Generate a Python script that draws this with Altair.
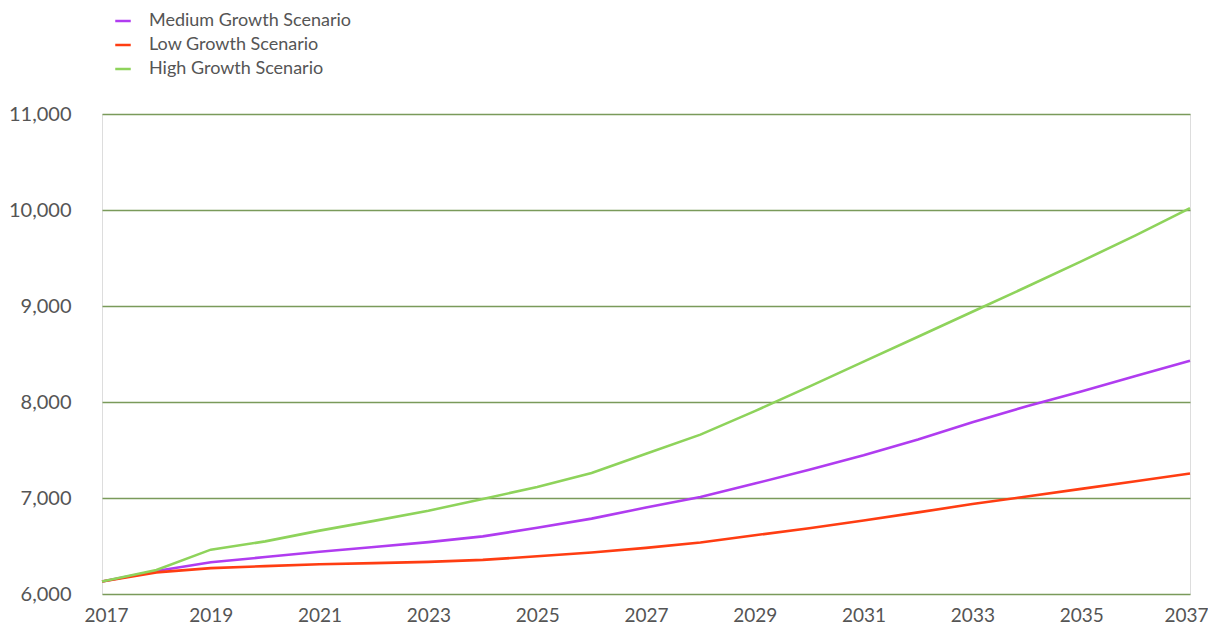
import altair as alt
import pandas as pd

years = list(range(2017, 2038))
medium = [6130, 6240, 6330, 6385, 6440, 6490, 6540, 6600, 6690, 6785, 6900, 7010, 7150,
          7295, 7445, 7610, 7790, 7955, 8110, 8270, 8430]
low = [6130, 6225, 6270, 6290, 6310, 6322, 6335, 6355, 6393, 6432, 6480, 6537, 6612,
       6685, 6765, 6850, 6937, 7015, 7095, 7175, 7255]
high = [6130, 6250, 6462, 6548, 6660, 6762, 6868, 6990, 7115, 7260, 7460, 7660, 7905,
        8160, 8420, 8680, 8940, 9200, 9465, 9735, 10020]

series_names = ["Medium Growth Scenario", "Low Growth Scenario", "High Growth Scenario"]
series_colors = ["#B03CF0", "#FF3D12", "#8ED35B"]
x_ticks = list(range(2017, 2038, 2))
y_ticks = [6000, 7000, 8000, 9000, 10000, 11000]

rows = []
for name, vals in zip(series_names, [medium, low, high]):
    for yr, v in zip(years, vals):
        rows.append({"year": yr, "value": v, "series": name})
df = pd.DataFrame(rows)

FONT = "Lato"
TXT = "#555555"

chart = alt.Chart(df).mark_line(strokeWidth=2.6).encode(
    x=alt.X("year:Q",
            scale=alt.Scale(domain=[2017, 2037], nice=False, zero=False),
            axis=alt.Axis(values=x_ticks, format="d", title=None, grid=False,
                          domain=False, ticks=False, labelPadding=12,
                          labelFontSize=19, labelColor=TXT, labelFont=FONT,
                          labelFlush=True, labelFlushOffset=18,
                          labelOverlap=False)),
    y=alt.Y("value:Q",
            scale=alt.Scale(domain=[6000, 11000], nice=False, zero=False),
            axis=alt.Axis(values=y_ticks, format=",d", title=None, grid=True,
                          gridColor="#7A9A5A", gridWidth=1.5, domain=False,
                          ticks=False, labelPadding=31, labelFontSize=20,
                          labelColor=TXT, labelFont=FONT)),
    color=alt.Color("series:N",
                    scale=alt.Scale(domain=series_names, range=series_colors),
                    sort=series_names,
                    legend=alt.Legend(title=None, orient="none", legendX=12,
                                      legendY=-102, symbolType="stroke",
                                      symbolSize=240, symbolStrokeWidth=2.5,
                                      labelFontSize=18, labelColor=TXT,
                                      labelFont=FONT, labelOffset=17,
                                      labelLimit=400, rowPadding=6)),
    order=alt.value(0),
).properties(
    width=1088,
    height=480,
    autosize=alt.AutoSizeParams(type="none"),
    padding={"left": 94, "top": 106, "right": 18, "bottom": 31},
).configure_view(stroke="transparent", strokeWidth=0).configure(background="white")

chart.save("out.html", embed_options={"renderer": "svg", "actions": False})
